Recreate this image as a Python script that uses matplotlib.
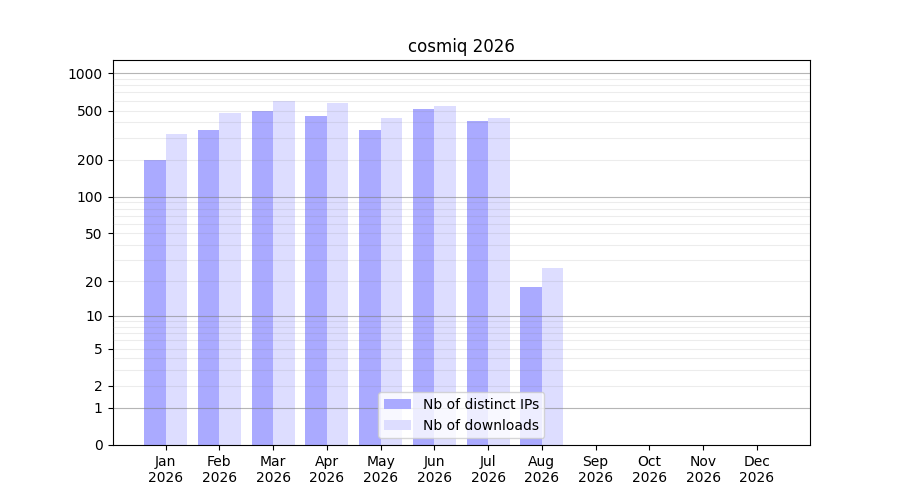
import numpy as np
import matplotlib
matplotlib.use("Agg")
import matplotlib.pyplot as plt
from matplotlib.ticker import FixedLocator

months = ["Jan", "Feb", "Mar", "Apr", "May", "Jun", "Jul", "Aug", "Sep", "Oct", "Nov", "Dec"]
year = "2026"
distinct_ips = [200, 348, 496, 452, 348, 514, 411, 18, 0, 0, 0, 0]
downloads = [322, 478, 597, 575, 435, 544, 435, 26, 0, 0, 0, 0]
ytick_values = [0, 1, 2, 5, 10, 20, 50, 100, 200, 500, 1000]
decades = [1, 10, 100, 1000]


def fwd(x):
    x = np.asarray(x, dtype=float)
    return np.sign(x) * np.log10(1 + np.abs(x))


def inv(y):
    y = np.asarray(y, dtype=float)
    return np.sign(y) * (10 ** np.abs(y) - 1)


fig, ax = plt.subplots(figsize=(9, 5), dpi=100)
x = np.arange(len(months))
w = 0.4
ax.bar(x - w / 2, distinct_ips, width=w, color="#aaaaff", label="Nb of distinct IPs")
ax.bar(x + w / 2, downloads, width=w, color="#ddddff", label="Nb of downloads")

ax.set_yscale("function", functions=(fwd, inv))
ax.set_ylim(0, 1280)
ax.set_xlim(-0.4 - 0.59, 11.4 + 0.59)

ax.yaxis.set_major_locator(FixedLocator(ytick_values))
ax.set_yticklabels([str(v) for v in ytick_values])
minor = [m * d for d in [1, 10, 100] for m in range(2, 10)]
ax.yaxis.set_minor_locator(FixedLocator(minor))
ax.tick_params(axis="y", which="minor", length=0)
ax.set_axisbelow(False)
ax.grid(True, axis="y", which="both", color="gray", alpha=0.15, linewidth=0.8)
for d in decades:
    ax.axhline(d, color="gray", alpha=0.5, linewidth=0.8, zorder=2.5)

ax.set_xticks(x)
ax.set_xticklabels([f"{m}\n{year}" for m in months])
ax.set_title("cosmiq 2026")
ax.legend(loc="lower center")

fig.savefig("out.png", dpi=100)
